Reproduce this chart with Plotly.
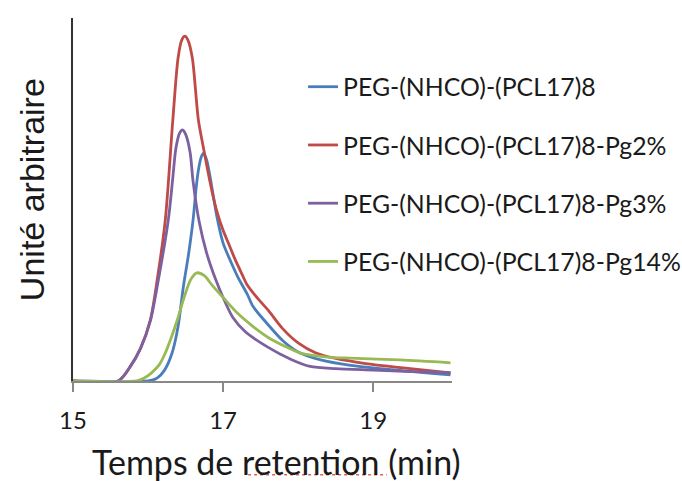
import plotly.graph_objects as go

# Retention time (min) / arbitrary intensity
x_peg = [15.0, 16.0, 16.12, 16.22, 16.32, 16.4, 16.47, 16.54, 16.6, 16.64, 16.67, 16.71, 16.74, 16.78,
         16.82, 16.92, 17.0, 17.1, 17.2, 17.32, 17.4, 17.6, 17.8, 18.0, 18.3, 18.7, 19.3, 20.03]
y_peg = [0, 0, 0.8, 3, 7.7, 15, 25.9, 35, 44.4, 53, 58, 61.8, 62.8, 61,
         57, 45, 38, 33, 28.5, 24, 20.5, 15.5, 11, 8, 5.8, 4.3, 3.0, 1.7]

x_pg2 = [15.0, 15.6, 15.76, 15.9, 16.03, 16.13, 16.23, 16.33, 16.4, 16.45, 16.49, 16.53, 16.59, 16.67,
         16.74, 16.8, 16.86, 16.92, 17.0, 17.07, 17.16, 17.25, 17.32, 17.43, 17.6, 17.79, 18.0, 18.23,
         18.5, 18.9, 19.4, 20.03]
y_pg2 = [0, 0, 3.9, 9, 16.8, 29, 44.4, 71.9, 89, 94, 95, 94, 89, 72,
         64, 57.5, 51.5, 46.5, 41.5, 38, 33.5, 29.5, 26.5, 23.5, 19.5, 14.5, 10.5, 7.8,
         6.2, 4.8, 3.6, 2.2]

x_pg3 = [15.0, 15.6, 15.76, 15.9, 16.03, 16.13, 16.27, 16.33, 16.37, 16.42, 16.46, 16.5, 16.56, 16.6,
         16.68, 16.78, 16.9, 17.0, 17.13, 17.3, 17.59, 17.9, 18.16, 18.5, 19.0, 19.5, 20.03]
y_pg3 = [0, 0, 3.9, 9, 16.5, 27, 44.4, 56, 64, 68.3, 69.2, 68, 63, 55,
         44, 35.3, 28, 23, 17.5, 13.5, 9.4, 6, 4, 3.4, 3.0, 2.6, 2.3]

x_pg14 = [15.0, 15.85, 15.95, 16.05, 16.15, 16.23, 16.31, 16.39, 16.48, 16.57, 16.65, 16.75, 16.85,
          17.0, 17.2, 17.4, 17.6, 17.8, 18.03, 18.4, 18.69, 19.36, 20.03]
y_pg14 = [0, 0, 0.8, 2.3, 4.5, 7.7, 12, 16.8, 23, 28, 29.8, 29, 26.5,
          23, 18.5, 15, 12, 9.8, 7.7, 6.6, 6.3, 5.8, 5.0]

names = ["PEG-(NHCO)-(PCL17)8", "PEG-(NHCO)-(PCL17)8-Pg2%",
         "PEG-(NHCO)-(PCL17)8-Pg3%", "PEG-(NHCO)-(PCL17)8-Pg14%"]
colors = ["#4A7EBB", "#BE4B48", "#7D60A0", "#98B954"]
tick_vals = [15, 17, 19]
tick_text = ["15", "17", "19"]

series = [(x_peg, y_peg), (x_pg2, y_pg2), (x_pg3, y_pg3), (x_pg14, y_pg14)]

fig = go.Figure()
for (xs, ys), name, col in zip(series, names, colors):
    fig.add_trace(go.Scatter(
        x=xs, y=ys, mode="lines", name=name, legendgroup=name,
        line=dict(color=col, width=2.8, shape="spline", smoothing=0.8),
    ))

fig.update_layout(
    width=682, height=481,
    margin=dict(l=73, r=230, t=18, b=100, autoexpand=False),
    plot_bgcolor="white", paper_bgcolor="white",
    showlegend=True,
    legend=dict(
        x=0.607, y=0.873, xanchor="left", yanchor="top",
        traceorder="grouped", tracegroupgap=23,
        font=dict(family="Lato", size=24.8, color="#1a1a1a"),
        bgcolor="rgba(0,0,0,0)", borderwidth=0,
    ),
    xaxis=dict(
        range=[15, 20.05], tickvals=tick_vals, ticktext=tick_text,
        ticks="outside", ticklen=9, tickwidth=1.5, tickcolor="#888888",
        showline=True, linecolor="#888888", linewidth=2,
        showgrid=False, zeroline=False,
        tickfont=dict(family="Lato", size=24, color="#1a1a1a"),
        ticklabelstandoff=8,
    ),
    yaxis=dict(
        range=[0, 100], showticklabels=False, ticks="",
        showline=True, linecolor="#333333", linewidth=1.5,
        showgrid=False, zeroline=False,
    ),
    annotations=[
        dict(text="Temps de retention (min)", xref="paper", yref="paper",
             x=0.538, y=-0.221, xanchor="center", yanchor="middle", showarrow=False,
             font=dict(family="Lato", size=34, color="#1a1a1a")),
        dict(text="Unité arbitraire", xref="paper", yref="paper",
             x=-0.108, y=0.526, xanchor="center", yanchor="middle", showarrow=False,
             textangle=-90,
             font=dict(family="Liberation Sans", size=34, color="#1a1a1a")),
    ],
    shapes=[
        dict(type="line", xref="paper", yref="paper", x0=0.462, x1=0.828,
             y0=-0.258, y1=-0.258, line=dict(color="#E06060", width=1.5, dash="dot")),
    ],
)

fig.write_html("out.html", config={"displayModeBar": False},
               post_script="document.body.style.margin='0';document.body.style.overflow='hidden';")
